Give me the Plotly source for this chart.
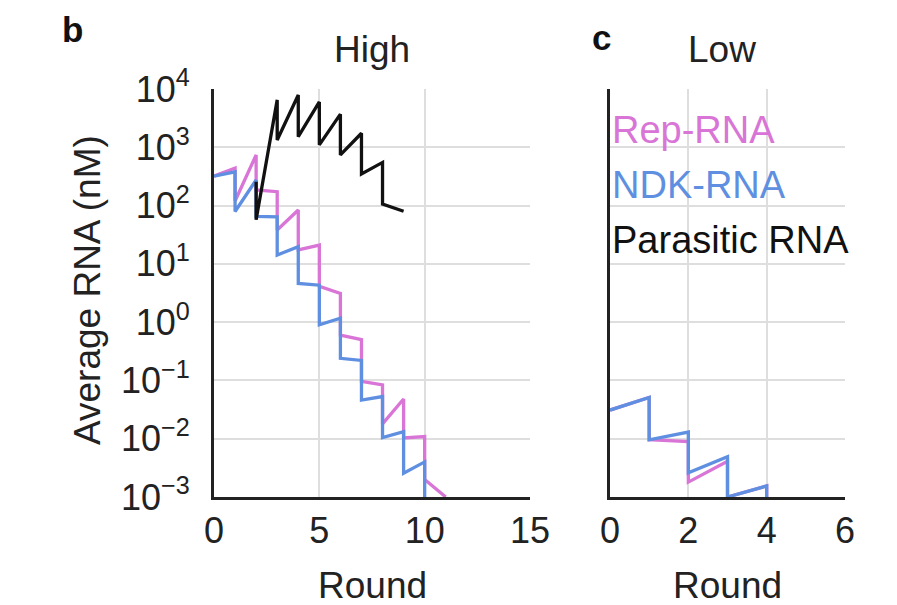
import plotly.graph_objects as go

# ---- Data (High) ----
high_rounds = [0, 1, 1, 2, 2, 3, 3, 4, 4, 5, 5, 6, 6, 7, 7, 8, 8, 9, 9, 10, 10, 11]
high_rep = [320, 440, 120, 740, 185, 173, 38, 84, 17.3, 21, 4.1, 3.1, 0.60, 0.50,
            0.096, 0.084, 0.018, 0.048, 0.0103, 0.0109, 0.0020, 0.001]
high_ndk_rounds = [0, 1, 1, 2, 2, 3, 3, 4, 4, 5, 5, 6, 6, 7, 7, 8, 8, 9, 9, 10, 10]
high_ndk = [320, 380, 79, 275, 65, 64, 14.2, 19.7, 4.6, 4.3, 0.9, 1.17, 0.24, 0.22,
            0.046, 0.053, 0.0105, 0.0132, 0.00256, 0.0040, 0.001]
high_par_rounds = [2, 2, 3, 3, 4, 4, 5, 5, 6, 6, 7, 7, 8, 8, 9]
high_par = [257, 57, 6500, 1330, 7900, 1520, 6000, 1100, 3700, 740, 1740, 350, 550, 106, 80]

# ---- Data (Low) ----
low_rounds = [0, 1, 1, 2, 2, 3, 3, 4, 4]
low_rep = [0.031, 0.051, 0.0096, 0.0089, 0.0018, 0.0041, 0.001, 0.00155, 0.001]
low_ndk = [0.031, 0.051, 0.0096, 0.013, 0.0026, 0.0049, 0.001, 0.00155, 0.001]

ytick_vals = [1e-3, 1e-2, 1e-1, 1e0, 1e1, 1e2, 1e3, 1e4]
ytick_text = ["10<sup>−3</sup>", "10<sup>−2</sup>", "10<sup>−1</sup>", "10<sup>0</sup>",
              "10<sup>1</sup>", "10<sup>2</sup>", "10<sup>3</sup>", "10<sup>4</sup>"]
high_xticks = [0, 5, 10, 15]
low_xticks = [0, 2, 4, 6]

PINK = "#d975d6"
BLUE = "#5f8fe0"
BLACK = "#111111"
FONT = "Liberation Sans, Arial, Helvetica, sans-serif"
FS = 36

fig = go.Figure()
lw = 3.3
fig.add_trace(go.Scatter(x=high_rounds, y=high_rep, mode="lines", line=dict(color=PINK, width=lw),
                         xaxis="x", yaxis="y", showlegend=False))
fig.add_trace(go.Scatter(x=high_ndk_rounds, y=high_ndk, mode="lines", line=dict(color=BLUE, width=lw),
                         xaxis="x", yaxis="y", showlegend=False))
fig.add_trace(go.Scatter(x=high_par_rounds, y=high_par, mode="lines", line=dict(color=BLACK, width=lw),
                         xaxis="x", yaxis="y", showlegend=False))
fig.add_trace(go.Scatter(x=low_rounds, y=low_rep, mode="lines", line=dict(color=PINK, width=lw),
                         xaxis="x2", yaxis="y2", showlegend=False))
fig.add_trace(go.Scatter(x=low_rounds, y=low_ndk, mode="lines", line=dict(color=BLUE, width=lw),
                         xaxis="x2", yaxis="y2", showlegend=False))

# page body has an 8px margin; figure placed at (8, 8)
OFF = 8
W, H = 897 - OFF, 605 - OFF

def px(x):
    return (x - OFF) / W

def py(y):
    return 1 - (y - OFF) / H

ydom = [py(497), py(89)]
axis_common = dict(showgrid=True, gridcolor="#dedede", gridwidth=1.5, zeroline=False,
                   showline=True, linecolor="#222222", linewidth=3, ticks="",
                   automargin=False,
                   tickfont=dict(family=FONT, size=FS, color="#222222"))

fig.update_layout(
    width=W, height=H,
    margin=dict(l=0, r=0, t=0, b=0),
    paper_bgcolor="white", plot_bgcolor="white",
    font=dict(family=FONT, size=FS, color="#222222"),
    xaxis=dict(domain=[px(214), px(530)], range=[0, 15], tickvals=high_xticks,
               anchor="y", ticklabelstandoff=0, **axis_common),
    yaxis=dict(domain=ydom, type="log", range=[-3, 4], tickvals=ytick_vals, ticktext=ytick_text,
               anchor="x", ticklabelstandoff=14, **axis_common),
    xaxis2=dict(domain=[px(610), px(845)], range=[0, 6], tickvals=low_xticks,
                anchor="y2", ticklabelstandoff=0, **axis_common),
    yaxis2=dict(domain=ydom, type="log", range=[-3, 4], tickvals=ytick_vals,
                showticklabels=False, anchor="x2", **axis_common),
)

def ann(text, x, y, size=37, color="#222222", bold=False, xanchor="center", angle=0):
    fig.add_annotation(text=("<b>%s</b>" % text) if bold else text, x=px(x), y=py(y),
                       xref="paper", yref="paper", showarrow=False, xanchor=xanchor,
                       yanchor="middle", textangle=angle,
                       font=dict(family=FONT, size=size, color=color))

ann("b", 72, 30, size=35, bold=True, color="#111111")
ann("c", 601, 38, size=35, bold=True, color="#111111")
ann("High", 372, 50)
ann("Low", 722, 50)
ann("Round", 372, 585)
ann("Round", 727, 585)
ann("Average RNA (nM)", 87, 290, angle=-90)
ann("Rep-RNA", 610, 130, size=38, color=PINK, xanchor="left")
ann("NDK-RNA", 610, 185, size=38, color=BLUE, xanchor="left")
ann("Parasitic RNA", 610, 240, size=38, color="#111111", xanchor="left")

fig.write_html("out.html")
